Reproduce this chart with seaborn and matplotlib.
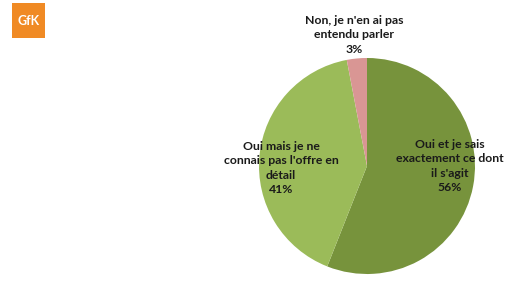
import matplotlib
matplotlib.use("Agg")
import matplotlib.pyplot as plt
import seaborn as sns
from matplotlib.patches import Rectangle

categories = ["Oui et je sais\nexactement ce dont\nil s'agit",
              "Oui mais je ne\nconnais pas l'offre en\ndétail",
              "Non, je n'en ai pas\nentendu parler"]
values = [56, 41, 3]
colors = ["#77933C", "#9BBB59", "#D99694"]

sns.set_theme(style="white")
plt.rcParams['font.family'] = ['Lato', 'DejaVu Sans']

W, H = 506, 282
fig = plt.figure(figsize=(W / 100, H / 100), dpi=100)
fig.patch.set_facecolor("white")

cx, cy, r = 367, 166, 108
ax = fig.add_axes([(cx - r) / W, (H - cy - r) / H, 2 * r / W, 2 * r / H])
ax.pie(values, colors=colors, startangle=90, counterclock=False,
       wedgeprops=dict(linewidth=0))
ax.set_xlim(-1, 1)
ax.set_ylim(-1, 1)
ax.set_aspect("equal")
ax.axis("off")

label_pos = [(450, 166), (281, 168), (354, 35)]
for cat, val, (x, y) in zip(categories, values, label_pos):
    fig.text(x / W, 1 - y / H, f"{cat}\n{val}%", ha="center", va="center",
             fontsize=8.8, fontweight="bold", color="#1a1a1a", linespacing=1.4)

# GfK logo
fig.patches.append(Rectangle((12 / W, 1 - 38 / H), 33 / W, 35 / H,
                             transform=fig.transFigure, facecolor="#F08A24",
                             edgecolor="none"))
fig.text(28.5 / W, 1 - 21 / H, "GfK", ha="center", va="center",
         fontsize=9, color="white", fontweight="bold")

fig.savefig("out.png", dpi=100)
